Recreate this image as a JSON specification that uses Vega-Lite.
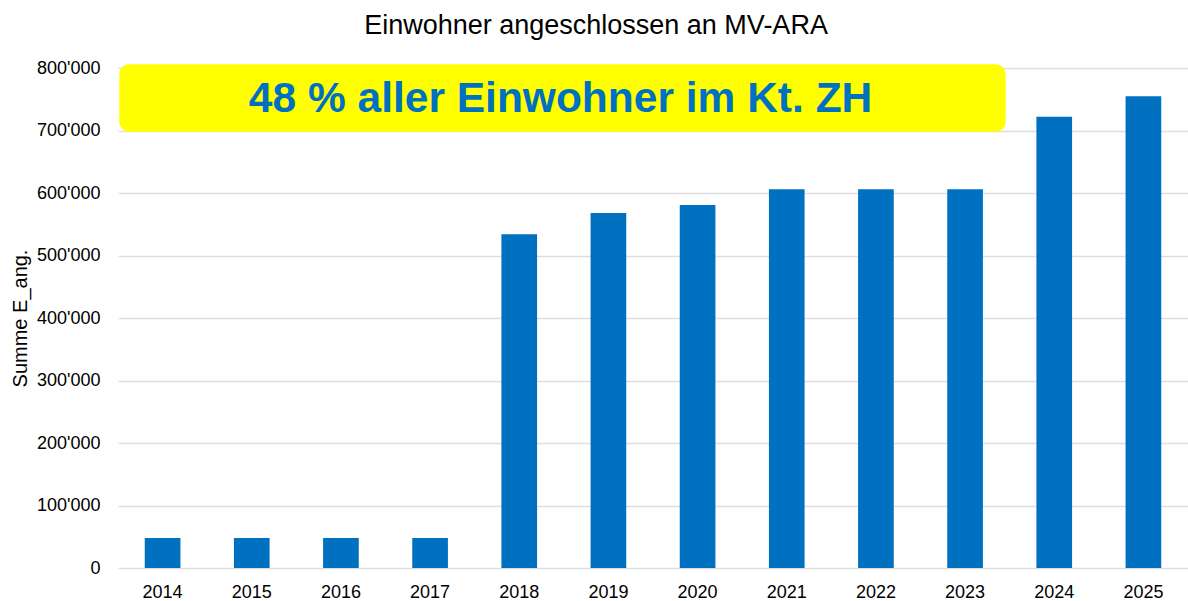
{
  "$schema": "https://vega.github.io/schema/vega-lite/v6.json",
  "autosize": "none",
  "width": 1070,
  "height": 500,
  "padding": {"left": 118, "top": 68, "right": 0, "bottom": 33},
  "background": "#ffffff",
  "config": {
    "font": "Liberation Sans",
    "view": {"stroke": null},
    "locale": {"number": {"decimal": ".", "thousands": "'", "grouping": [3], "currency": ["", ""]}}
  },
  "title": {
    "text": "Einwohner angeschlossen an MV-ARA",
    "fontSize": 27,
    "fontWeight": "normal",
    "color": "#000000",
    "anchor": "middle",
    "frame": "group",
    "offset": 19,
    "dx": -57
  },
  "resolve": {"scale": {"x": "independent", "y": "independent"}, "axis": {"x": "independent", "y": "independent"}},
  "layer": [
    {
      "data": {
        "values": [
          {"Jahr": "2014", "Summe": 48000},
          {"Jahr": "2015", "Summe": 48000},
          {"Jahr": "2016", "Summe": 48000},
          {"Jahr": "2017", "Summe": 48000},
          {"Jahr": "2018", "Summe": 534000},
          {"Jahr": "2019", "Summe": 568000},
          {"Jahr": "2020", "Summe": 581000},
          {"Jahr": "2021", "Summe": 606000},
          {"Jahr": "2022", "Summe": 606000},
          {"Jahr": "2023", "Summe": 606000},
          {"Jahr": "2024", "Summe": 722000},
          {"Jahr": "2025", "Summe": 755000}
        ]
      },
      "mark": {"type": "bar", "color": "#0070C0"},
      "encoding": {
        "x": {
          "field": "Jahr",
          "type": "ordinal",
          "scale": {"paddingInner": 0.6, "paddingOuter": 0.3},
          "axis": {
            "title": null,
            "labelAngle": 0,
            "labelFontSize": 18,
            "labelColor": "#000000",
            "labelPadding": 15,
            "ticks": false,
            "domain": false,
            "grid": false
          }
        },
        "y": {
          "field": "Summe",
          "type": "quantitative",
          "scale": {"domain": [0, 800000], "nice": false},
          "axis": {
            "title": "Summe E_ang.",
            "titleFontSize": 20,
            "titleFontWeight": "normal",
            "titleColor": "#000000",
            "titlePadding": 6,
            "values": [0, 100000, 200000, 300000, 400000, 500000, 600000, 700000, 800000],
            "format": ",d",
            "labelFontSize": 18,
            "labelColor": "#000000",
            "labelPadding": 18,
            "ticks": false,
            "domain": false,
            "grid": true,
            "gridColor": "#dedede",
            "gridWidth": 1.5
          }
        }
      }
    },
    {
      "data": {"values": [{"x0": 0.0012, "x1": 0.8296, "y0": 698000, "y1": 806000}]},
      "mark": {"type": "rect", "color": "#FFFF00", "cornerRadius": 10},
      "encoding": {
        "x": {"field": "x0", "type": "quantitative", "scale": {"domain": [0, 1], "nice": false, "zero": false}, "axis": null},
        "x2": {"field": "x1"},
        "y": {"field": "y0", "type": "quantitative", "scale": {"domain": [0, 800000], "nice": false, "zero": false}, "axis": null},
        "y2": {"field": "y1"}
      }
    },
    {
      "data": {"values": [{"tx": 0.4136, "ty": 729400, "label": "48 % aller Einwohner im Kt. ZH"}]},
      "mark": {"type": "text", "fontSize": 42.5, "fontWeight": "bold", "color": "#0070C0", "align": "center", "baseline": "alphabetic"},
      "encoding": {
        "x": {"field": "tx", "type": "quantitative", "scale": {"domain": [0, 1], "nice": false, "zero": false}, "axis": null},
        "y": {"field": "ty", "type": "quantitative", "scale": {"domain": [0, 800000], "nice": false, "zero": false}, "axis": null},
        "text": {"field": "label"}
      }
    }
  ]
}
